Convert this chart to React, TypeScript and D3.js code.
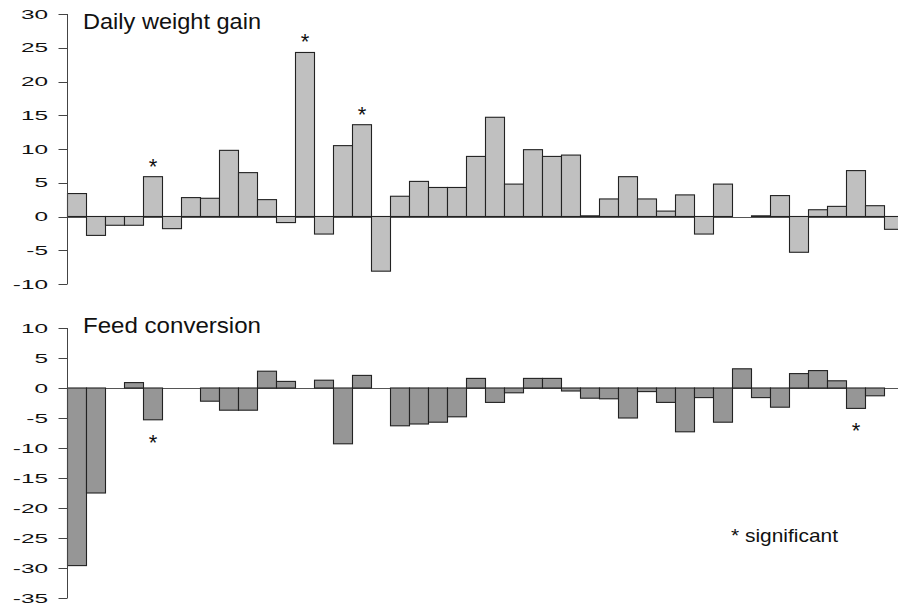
import React from "react";
import * as d3 from "d3";

const groups: string[] = Array.from({ length: 44 }, (_, i) => `G${i + 1}`);

const dailyWeightGain: (number | null)[] = [
  3.4, -2.8, -1.3, -1.3, 5.9, -1.8, 2.8, 2.7, 9.8, 6.5, 2.5, -0.9, 24.3, -2.6,
  10.5, 13.6, -8.1, 3.0, 5.2, 4.3, 4.3, 8.9, 14.7, 4.8, 9.9, 8.9, 9.1, 0.1, 2.6,
  5.9, 2.6, 0.8, 3.2, -2.6, 4.8, null, 0.1, 3.1, -5.3, 1.0, 1.5, 6.8, 1.6, -1.9,
];

const feedConversion: (number | null)[] = [
  -29.6, -17.5, null, 0.9, -5.3, null, null, -2.2, -3.7, -3.7, 2.8, 1.1, null,
  1.3, -9.3, 2.1, null, -6.3, -6.0, -5.7, -4.8, 1.6, -2.4, -0.8, 1.6, 1.6, -0.5,
  -1.7, -1.8, -5.0, -0.6, -2.4, -7.3, -1.6, -5.7, 3.2, -1.6, -3.2, 2.4, 2.9, 1.2,
  -3.4, -1.3, null,
];

const weightSignificant: number[] = [4, 12, 15];
const feedSignificant: number[] = [4, 41];

const weightTicks: number[] = [30, 25, 20, 15, 10, 5, 0, -5, -10];
const feedTicks: number[] = [10, 5, 0, -5, -10, -15, -20, -25, -30, -35];

const W = 898;
const H = 606;
const FONT = "'Liberation Sans', Arial, Helvetica, sans-serif";
const AXIS_X = 67;
const BAND = 19;

const x = d3
  .scaleBand<string>()
  .domain(groups)
  .range([AXIS_X, AXIS_X + BAND * groups.length])
  .paddingInner(0)
  .paddingOuter(0);

interface PanelProps {
  values: (number | null)[];
  significant: number[];
  ticks: number[];
  domain: [number, number];
  range: [number, number];
  fill: string;
  title: string;
  titleY: number;
  starAbove: boolean;
}

function Panel({ values, significant, ticks, domain, range, fill, title, titleY, starAbove }: PanelProps) {
  const y = d3.scaleLinear().domain(domain).range(range);
  const y0 = y(0);
  return (
    <g>
      <line x1={AXIS_X} x2={W} y1={Math.round(y0) + 0.5} y2={Math.round(y0) + 0.5} stroke="#555" strokeWidth={1} />
      {values.map((v, i) => {
        if (v === null) return null;
        const bx = (x(groups[i]) as number) + 0.5;
        const top = Math.min(y(v), y0);
        const h = Math.abs(y(v) - y0);
        return (
          <rect
            key={i}
            x={bx}
            y={top}
            width={x.bandwidth()}
            height={Math.max(h, 0.5)}
            fill={fill}
            stroke="#222"
            strokeWidth={1.1}
          />
        );
      })}
      {significant.map((i) => {
        const v = values[i] as number;
        const cx = (x(groups[i]) as number) + x.bandwidth() / 2 + 0.5;
        const yy = starAbove ? y(v) - 3 : y(v) + 30;
        return (
          <text key={`s${i}`} x={cx} y={yy} textAnchor="middle" fontFamily={FONT} fontSize={22} fill="#111">
            *
          </text>
        );
      })}
      <line x1={AXIS_X + 0.5} x2={AXIS_X + 0.5} y1={range[1]} y2={range[0]} stroke="#444" strokeWidth={1} />
      {ticks.map((t) => (
        <g key={t}>
          <line x1={58.5} x2={AXIS_X + 0.5} y1={Math.round(y(t)) + 0.5} y2={Math.round(y(t)) + 0.5} stroke="#444" strokeWidth={1} />
          <text
            transform={`translate(48,${y(t) + 4.5}) scale(1.95,1)`}
            textAnchor="end"
            fontFamily={FONT}
            fontSize={12.5}
            fill="#111"
          >
            {String(t)}
          </text>
        </g>
      ))}
      <text x={83} y={titleY} fontFamily={FONT} fontSize={21.5} fill="#111" textLength={178} lengthAdjust="spacingAndGlyphs">
        {title}
      </text>
    </g>
  );
}

export default function App() {
  return (
    <div style={{ position: "absolute", left: 0, top: 0, width: W, height: H, background: "#fff" }}>
      <svg width={W} height={H} viewBox={`0 0 ${W} ${H}`} style={{ display: "block" }}>
        <rect x={0} y={0} width={W} height={H} fill="#fff" />
        <Panel
          values={dailyWeightGain}
          significant={weightSignificant}
          ticks={weightTicks}
          domain={[-10, 30]}
          range={[284, 14]}
          fill="#c0c0c0"
          title="Daily weight gain"
          titleY={28.5}
          starAbove={true}
        />
        <Panel
          values={feedConversion}
          significant={feedSignificant}
          ticks={feedTicks}
          domain={[-35, 10]}
          range={[598, 328]}
          fill="#969696"
          title="Feed conversion"
          titleY={333}
          starAbove={false}
        />
        <text x={731} y={542} fontFamily={FONT} fontSize={19} fill="#111" textLength={107} lengthAdjust="spacingAndGlyphs">
          * significant
        </text>
      </svg>
    </div>
  );
}
